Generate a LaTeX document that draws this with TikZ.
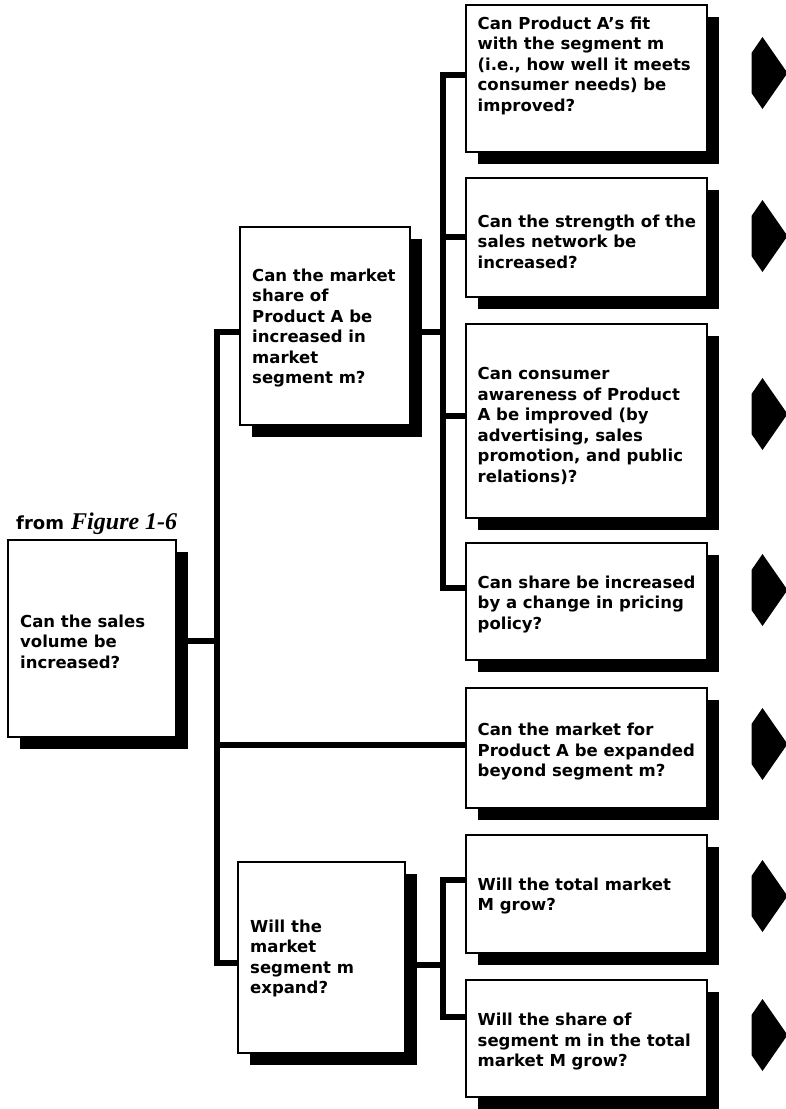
\documentclass[tikz,border=0pt]{standalone}
\usepackage{fontspec}
\usetikzlibrary{shadows}
\newfontfamily\qfont{DejaVu Sans}
\newfontfamily\figfont{Liberation Serif}

\tikzset{
  qbox/.style={draw, line width=2pt, fill=white, inner sep=0pt,
    drop shadow={shadow xshift=12pt, shadow yshift=-12pt, opacity=1, fill=black}},
  qtext/.style={anchor=west, align=left, inner sep=0pt,
    font=\qfont\bfseries\fontsize{16.5pt}{20.5pt}\selectfont},
  conn/.style={line width=6pt, line join=miter},
  nextarrow/.pic={\fill (0,-20) -- (11,-36) -- (36,0) -- (11,36) -- (0,20) -- cycle;}
}

\begin{document}
\begin{tikzpicture}[x=1pt, y=-1pt]
\useasboundingbox (0,0) rectangle (785,1109);
\fill[white] (0,0) rectangle (785,1109);

% root question
\node[anchor=base west, inner sep=0pt] (src) at (16,529)
  {\qfont\bfseries\fontsize{18pt}{20pt}\selectfont from\hspace{0.4em}\figfont\fontsize{24pt}{26pt}\selectfont\bfseries\itshape Figure 1-6};
\node[qbox, minimum width=168pt, minimum height=197pt] (L0) at (92,638.5) {};
\node[qtext] (tL0) at ([xshift=13pt, yshift=-3pt]L0.west) {Can the sales\\volume be\\increased?};

% second level
\node[qbox, minimum width=170pt, minimum height=198pt] (M1) at (325,326) {};
\node[qtext] (tM1) at ([xshift=13pt, yshift=-2pt]M1.west)
  {Can the market\\share of\\Product A be\\increased in\\market\\segment m?};
\node[qbox, minimum width=167pt, minimum height=191pt] (M2) at (321.5,957.5) {};
\node[qtext] (tM2) at ([xshift=13pt, yshift=-1pt]M2.west)
  {Will the\\market\\segment m\\expand?};

% third level
\node[qbox, minimum width=241pt, minimum height=147pt] (R1) at (586,78.5) {};
\node[qtext] (tR1) at ([xshift=13pt, yshift=13pt]R1.west)
  {Can Product A’s fit\\with the segment m\\(i.e., how well it meets\\consumer needs) be\\improved?};
\node[qbox, minimum width=241pt, minimum height=119pt] (R2) at (586,237.5) {};
\node[qtext] (tR2) at ([xshift=13pt, yshift=-4pt]R2.west)
  {Can the strength of the\\sales network be\\increased?};
\node[qbox, minimum width=241pt, minimum height=194pt] (R3) at (586,421) {};
\node[qtext] (tR3) at ([xshift=13pt, yshift=-5pt]R3.west)
  {Can consumer\\awareness of Product\\A be improved (by\\advertising, sales\\promotion, and public\\relations)?};
\node[qbox, minimum width=241pt, minimum height=117pt] (R4) at (586,601.5) {};
\node[qtext] (tR4) at ([xshift=13pt, yshift=-3pt]R4.west)
  {Can share be increased\\by a change in pricing\\policy?};
\node[qbox, minimum width=241pt, minimum height=120pt] (R5) at (586,748) {};
\node[qtext] (tR5) at ([xshift=13pt, yshift=-4pt]R5.west)
  {Can the market for\\Product A be expanded\\beyond segment m?};
\node[qbox, minimum width=241pt, minimum height=118pt] (R6) at (586,894) {};
\node[qtext] (tR6) at ([xshift=13pt, yshift=-2pt]R6.west)
  {Will the total market\\M grow?};
\node[qbox, minimum width=241pt, minimum height=117pt] (R7) at (586,1038.5) {};
\node[qtext] (tR7) at ([xshift=13pt, yshift=-3pt]R7.west)
  {Will the share of\\segment m in the total\\market M grow?};

% junction points on the spines
\coordinate (jA) at (217,332);
\coordinate (jB) at (217,641);
\coordinate (jC) at (217,745);
\coordinate (jD) at (217,963);
\coordinate (k0) at (443,332);
\coordinate (k1) at (443,75);
\coordinate (k2) at (443,237);
\coordinate (k3) at (443,416);
\coordinate (k4) at (443,588);
\coordinate (b0) at (443,965);
\coordinate (b1) at (443,880);
\coordinate (b2) at (443,1017);

% connectors
\draw[conn] (jA -| M1.west) -- (jA) -- (jD) -- (jD -| M2.west);
\draw[conn] (jB -| L0.east) -- (jB);
\draw[conn] (jC) -- (jC -| R5.west);
\draw[conn] (k0 -| M1.east) -- (k0);
\draw[conn] (k1 -| R1.west) -- (k1) -- (k4) -- (k4 -| R4.west);
\draw[conn] (k2) -- (k2 -| R2.west);
\draw[conn] (k3) -- (k3 -| R3.west);
\draw[conn] (b0 -| M2.east) -- (b0);
\draw[conn] (b1 -| R6.west) -- (b1) -- (b2) -- (b2 -| R7.west);

% continuation arrows
\pic at ([xshift=44pt, yshift=5.5pt]R1.east) {nextarrow};
\pic at ([xshift=44pt, yshift=1.5pt]R2.east) {nextarrow};
\pic at ([xshift=44pt, yshift=7pt]R3.east) {nextarrow};
\pic at ([xshift=44pt, yshift=11.5pt]R4.east) {nextarrow};
\pic at ([xshift=44pt, yshift=4pt]R5.east) {nextarrow};
\pic at ([xshift=44pt, yshift=-2pt]R6.east) {nextarrow};
\pic at ([xshift=44pt, yshift=3.5pt]R7.east) {nextarrow};
\end{tikzpicture}
\end{document}
